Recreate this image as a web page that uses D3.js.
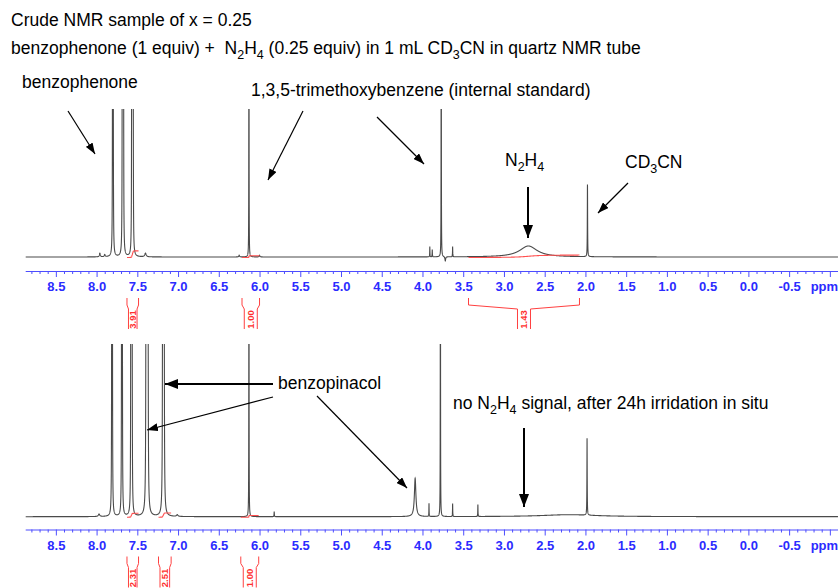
<!DOCTYPE html>
<html>
<head>
<meta charset="utf-8">
<script src="https://cdn.jsdelivr.net/npm/d3@7"></script>
<style>
  body { margin: 0; background: #fff; }
  svg { font-family: "Liberation Sans", Arial, sans-serif; }
</style>
</head>
<body>
<svg id="chart" width="838" height="588"></svg>
<script>
// peak lists: shift (ppm), height (1 = top of panel), line width (ppm)
const topPpm    = [7.797, 7.803, 7.670, 7.677, 7.684, 7.552, 7.560, 7.568, 7.96, 7.90, 7.40, 6.25, 6.13, 6.00, 3.91, 3.88, 3.77, 3.72, 3.63, 2.70, 1.975];
const topHeight = [4, 4, 4, 4, 4, 4, 4, 4, 0.025, 0.015, 0.025, 0.012, 4, 0.012, 0.07, 0.05, 4, -0.03, 0.07, 0.075, 0.49];
const topWidth  = [0.003, 0.003, 0.003, 0.003, 0.003, 0.003, 0.003, 0.003, 0.012, 0.012, 0.02, 0.01, 0.002, 0.01, 0.003, 0.003, 0.002, 0.01, 0.003, 0.26, 0.004];

const botPpm    = [7.807, 7.813, 7.685, 7.692, 7.565, 7.572, 7.579, 7.370, 7.378, 7.386, 7.392, 7.172, 7.180, 7.188, 7.97, 7.01, 6.13, 5.82, 4.09, 3.92, 3.78, 3.63, 3.32, 2.20, 1.98];
const botHeight = [4, 4, 4, 4, 4, 4, 4, 4, 4, 4, 4, 4, 4, 4, 0.015, 0.01, 4, 0.03, 0.23, 0.078, 4, 0.078, 0.072, 0.012, 0.46];
const botWidth  = [0.003, 0.003, 0.003, 0.003, 0.003, 0.003, 0.003, 0.004, 0.004, 0.004, 0.004, 0.004, 0.004, 0.004, 0.02, 0.02, 0.002, 0.004, 0.022, 0.003, 0.002, 0.003, 0.003, 0.8, 0.004];

// integration regions (ppm from, ppm to) and their values
const topIntegralRanges = [[7.627, 7.485], [6.215, 6.0], [3.435, 2.073]];
const topIntegralValues = ["3.91", "1.00", "1.43"];
const botIntegralRanges = [[7.627, 7.485], [7.24, 7.085], [6.23, 6.01]];
const botIntegralValues = ["2.31", "2.51", "1.00"];

const majorTicks = [8.5, 8.0, 7.5, 7.0, 6.5, 6.0, 5.5, 5.0, 4.5, 4.0, 3.5, 3.0, 2.5, 2.0, 1.5, 1.0, 0.5, 0.0, -0.5, -1.0];
const tickLabels = ["8.5", "8.0", "7.5", "7.0", "6.5", "6.0", "5.5", "5.0", "4.5", "4.0", "3.5", "3.0", "2.5", "2.0", "1.5", "1.0", "0.5", "0.0", "-0.5", "ppm"];

const svg = d3.select("#chart");

const x = d3.scaleLinear().domain([8.87, -1.1]).range([25.7, 838]);

const panels = [
    { ppm: topPpm, height: topHeight, width: topWidth, base: 257, span: 147, top: 109, axisY: 271,
      ranges: topIntegralRanges, values: topIntegralValues },
    { ppm: botPpm, height: botHeight, width: botWidth, base: 516.7, span: 167, top: 344, axisY: 529.5,
      ranges: botIntegralRanges, values: botIntegralValues }
];

function intensity(p, ppm, height, width) {
    let s = 0;
    for (let i = 0; i < ppm.length; i++) {
        const hw = width[i] / 2;
        const d = p - ppm[i];
        s += height[i] * hw * hw / (d * d + hw * hw);
    }
    return s;
}

function buildTrace(ppm, height, width) {
    const grid = d3.range(8.87, -1.1, -0.0008).concat(ppm).sort((a, b) => b - a);
    return grid.map(p => [p, intensity(p, ppm, height, width)]);
}

const defs = svg.append("defs");
function addMarker(id, len, wid) {
    defs.append("marker")
        .attr("id", id)
        .attr("markerUnits", "userSpaceOnUse")
        .attr("markerWidth", len).attr("markerHeight", wid)
        .attr("refX", len).attr("refY", wid / 2)
        .attr("orient", "auto")
        .append("path")
        .attr("d", `M0,0 L${len},${wid / 2} L0,${wid} Z`)
        .attr("fill", "#000");
}
addMarker("head", 11, 8);
addMarker("headBig", 13, 10);

panels.forEach((pn, k) => {
    const y = d3.scaleLinear().domain([0, 1]).range([pn.base, pn.base - pn.span]);

    defs.append("clipPath").attr("id", "clip" + k)
        .append("rect").attr("x", 0).attr("y", pn.top).attr("width", 838).attr("height", pn.axisY - pn.top);

    const trace = buildTrace(pn.ppm, pn.height, pn.width);
    const line = d3.line().x(d => x(d[0])).y(d => y(d[1]));

    svg.append("path")
        .datum(trace)
        .attr("clip-path", `url(#clip${k})`)
        .attr("d", line)
        .attr("fill", "none")
        .attr("stroke", "#4a4a4a")
        .attr("stroke-width", 1.1);

    // integral curves
    pn.ranges.forEach((r, i) => {
        const pts = trace.filter(d => d[0] <= r[0] && d[0] >= r[1]);
        let cum = 0;
        const cumPts = pts.map(d => { cum += Math.max(d[1], 0); return [d[0], cum]; });
        const rise = +pn.values[i] * 1.7;
        const yi = d3.scaleLinear().domain([0, cum]).range([pn.base + 0.5, pn.base + 0.5 - rise]);
        svg.append("path")
            .attr("d", d3.line().x(d => x(d[0])).y(d => yi(d[1]))(cumPts))
            .attr("fill", "none")
            .attr("stroke", "#ff5050")
            .attr("stroke-width", 1.1);
    });

    // axis
    const ax = svg.append("g").attr("transform", `translate(0,${pn.axisY})`);
    const minor = d3.range(88, -11, -1).map(v => v / 10).filter(v => Math.round(v * 10) % 5 !== 0);
    ax.append("g")
        .call(d3.axisBottom(x).tickValues(minor).tickSize(3).tickSizeOuter(0).tickFormat(""))
        .call(g => g.select(".domain").remove());
    ax.append("g")
        .call(d3.axisBottom(x).tickValues(majorTicks).tickSize(6).tickSizeOuter(0).tickPadding(5)
            .tickFormat((d, i) => tickLabels[i]))
        .call(g => g.select(".domain").attr("d", "M25.7,0.5H838"));
    ax.selectAll("line, path").attr("stroke", "#4d4dff");
    ax.selectAll("text")
        .attr("fill", "#2b2bff")
        .attr("font-size", 13)
        .attr("font-weight", "bold")
        .attr("font-family", "\"Liberation Sans\", Arial, sans-serif");
    ax.selectAll(".tick text").filter(d => d === -1.0).attr("dx", -6);

    // integration brackets
    pn.ranges.forEach((r, i) => {
        const x0 = x(r[0]), x1 = x(r[1]);
        const mid = (x0 + x1) / 2, half = (x1 - x0) / 2;
        const gap = Math.min(half - 1.5, 6.5);
        const t = pn.axisY + 27;
        const b = svg.append("g");
        b.append("path")
            .attr("d", `M${x0},${t} L${x0},${t + 7} L${mid - gap},${t + 11} L${mid - gap},${t + 31}` +
                       `M${x1},${t} L${x1},${t + 7} L${mid + gap},${t + 11} L${mid + gap},${t + 31}`)
            .attr("fill", "none")
            .attr("stroke", "#ff4040")
            .attr("stroke-width", 1);
        b.append("text")
            .attr("transform", `translate(${mid + 3.5},${t + 21.5}) rotate(-90)`)
            .attr("text-anchor", "middle")
            .attr("font-size", 9.5)
            .attr("font-weight", "bold")
            .attr("fill", "#ff3030")
            .text(pn.values[i]);
    });
});

// text labels, {sub: ".."} parts are subscripts
function label(xp, yp, parts) {
    const t = svg.append("text").attr("x", xp).attr("y", yp).attr("font-size", 17.5).attr("fill", "#000")
        .style("white-space", "pre");
    let shift = 0;
    parts.forEach(p => {
        if (typeof p === "string") {
            t.append("tspan").attr("dy", -shift).text(p);
            shift = 0;
        } else {
            t.append("tspan").attr("font-size", 12.5).attr("dy", 5 - shift).text(p.sub);
            shift = 5;
        }
    });
    return t;
}
label(11, 26, ["Crude NMR sample of x = 0.25"]);
label(11, 54, ["benzophenone (1 equiv) +  N", { sub: "2" }, "H", { sub: "4" }, " (0.25 equiv) in 1 mL CD", { sub: "3" }, "CN in quartz NMR tube"]);
label(22, 88, ["benzophenone"]);
label(251, 96, ["1,3,5-trimethoxybenzene (internal standard)"]);
label(505, 166, ["N", { sub: "2" }, "H", { sub: "4" }]);
label(625, 168, ["CD", { sub: "3" }, "CN"]);
label(278, 389, ["benzopinacol"]);
label(453, 409, ["no N", { sub: "2" }, "H", { sub: "4" }, " signal, after 24h irridation in situ"]);

// arrows: [x1, y1, x2, y2, thick]
const arrows = [
    [68, 111, 95, 154, false],
    [303, 111, 268, 180, false],
    [377, 117, 424, 164, false],
    [528, 187, 528, 238, true],
    [628, 183, 598, 213, false],
    [273, 384, 165, 384, true],
    [273, 397, 147, 430, false],
    [317, 396, 407, 488, false],
    [524, 428, 524, 507, true]
];
arrows.forEach(a => {
    svg.append("line")
        .attr("x1", a[0]).attr("y1", a[1]).attr("x2", a[2]).attr("y2", a[3])
        .attr("stroke", "#000")
        .attr("stroke-width", a[4] ? 2 : 1.2)
        .attr("marker-end", a[4] ? "url(#headBig)" : "url(#head)");
});
</script>
</body>
</html>
